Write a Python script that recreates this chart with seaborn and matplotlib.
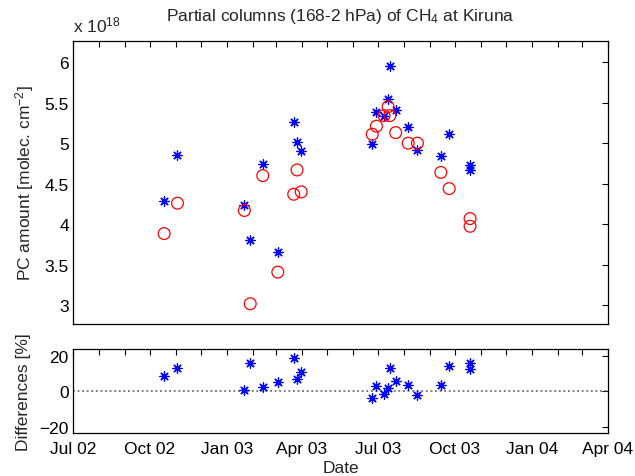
import matplotlib
matplotlib.use("Agg")
import matplotlib.pyplot as plt
import matplotlib.dates as mdates
import seaborn as sns
import pandas as pd

# ---- data ----
dates = ["2002-10-18", "2002-11-03", "2003-01-22", "2003-01-29", "2003-02-13",
         "2003-03-03", "2003-03-22", "2003-03-26", "2003-03-31",
         "2003-06-24", "2003-06-29", "2003-07-08", "2003-07-13", "2003-07-15",
         "2003-07-22", "2003-08-06", "2003-08-17", "2003-09-14", "2003-09-24",
         "2003-10-19", "2003-10-19"]
ftir_pc = [4.29, 4.85, 4.24, 3.80, 4.74, 3.66, 5.26, 5.01, 4.90,
           4.99, 5.38, 5.33, 5.54, 5.955, 5.41, 5.20, 4.91, 4.84, 5.11,
           4.73, 4.67]
model_pc = [3.885, 4.26, 4.17, 3.02, 4.60, 3.41, 4.37, 4.67, 4.40,
            5.11, 5.21, 5.34, 5.45, 5.34, 5.13, 5.00, 5.00, 4.64, 4.44,
            4.07, 3.975]
diff_pct = [8.5, 13.0, 1.0, 16.3, 2.4, 5.1, 18.8, 6.9, 11.0,
            -3.7, 3.3, -1.4, 1.8, 13.0, 5.7, 3.9, -2.1, 3.9, 14.5,
            16.3, 12.7]
title = "Partial columns (168-2 hPa) of CH$_4$ at Kiruna"
ylabel_top = "PC amount [molec. cm$^{-2}$]"
ylabel_bot = "Differences [%]"
xlabel = "Date"

df = pd.DataFrame({"date": pd.to_datetime(dates), "ftir": ftir_pc,
                   "model": model_pc, "diff": diff_pct})

sns.set_style("white")
plt.rcParams["font.family"] = ["Liberation Sans", "DejaVu Sans"]
plt.rcParams["mathtext.fontset"] = "custom"
plt.rcParams["mathtext.rm"] = "Liberation Sans"
plt.rcParams["mathtext.it"] = "Liberation Sans:italic"
fs = 12.5

fig = plt.figure(figsize=(6.35, 4.77), dpi=100)
ax1 = fig.add_axes([73/635, 1-325/477, 535/635, 283/477])
ax2 = fig.add_axes([73/635, 1-434/477, 535/635, 84/477])

star = (8, 2, 0)
sns.scatterplot(data=df, x="date", y="ftir", ax=ax1, marker=star, s=45,
                color="blue", edgecolor="blue", linewidth=0.9, zorder=3)
sns.scatterplot(data=df, x="date", y="model", ax=ax1, marker="o", s=72,
                facecolor="none", edgecolor="red", linewidth=0.9, zorder=3)
ax2.axhline(0, color="0.35", linestyle=(0, (1.2, 1.8)), linewidth=1.1, zorder=1)
sns.scatterplot(data=df, x="date", y="diff", ax=ax2, marker=star, s=45,
                color="blue", edgecolor="blue", linewidth=0.9, zorder=3)

xmin, xmax = pd.Timestamp("2002-07-01"), pd.Timestamp("2004-04-01")
for ax in (ax1, ax2):
    ax.set_xlim(xmin, xmax)
    ax.xaxis.set_major_locator(mdates.MonthLocator(bymonth=[1, 4, 7, 10]))
    ax.xaxis.set_minor_locator(mdates.MonthLocator())
    ax.xaxis.set_major_formatter(mdates.DateFormatter("%b %y"))
    ax.tick_params(which="both", direction="in", top=True, right=True,
                   length=4, width=0.8, labelsize=fs, colors="black", pad=3)
    ax.tick_params(axis="x", pad=6)
    for sp in ax.spines.values():
        sp.set_color("black")
        sp.set_linewidth(0.9)
    ax.set_xlabel("")
    ax.set_ylabel("")

ax1.set_ylim(2.77, 6.26)
ax1.set_yticks([3, 3.5, 4, 4.5, 5, 5.5, 6])
ax1.set_yticklabels(["3", "3.5", "4", "4.5", "5", "5.5", "6"])
ax1.tick_params(labelbottom=False)
ax1.set_ylabel(ylabel_top, fontsize=fs, labelpad=6)
ax1.set_title(title, fontsize=fs, pad=15)
ax1.text(0.0, 1.025, "x 10$^{18}$", transform=ax1.transAxes, fontsize=fs,
         ha="left", va="bottom")

ax2.set_ylim(-23.5, 24)
ax2.set_yticks([-20, 0, 20])
ax2.set_ylabel(ylabel_bot, fontsize=fs, labelpad=6)
ax2.set_xlabel(xlabel, fontsize=fs, labelpad=3)

fig.savefig("out.png", dpi=100)
